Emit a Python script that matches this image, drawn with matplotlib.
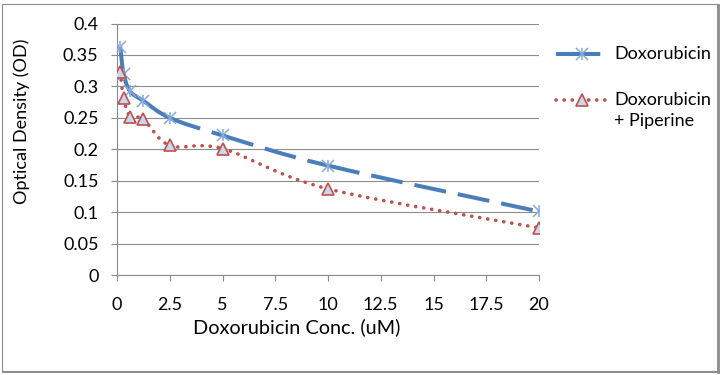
import numpy as np
import matplotlib.pyplot as plt
from matplotlib.path import Path
from matplotlib.patches import PathPatch, Rectangle
from matplotlib.lines import Line2D

# Данные
conc = [0.156, 0.3125, 0.625, 1.25, 2.5, 5, 10, 20]
od_dox = [0.363, 0.320, 0.292, 0.277, 0.250, 0.222, 0.174, 0.101]
od_dox_pip = [0.323, 0.281, 0.252, 0.248, 0.206, 0.201, 0.137, 0.075]

x_ticks = [0, 2.5, 5, 7.5, 10, 12.5, 15, 17.5, 20]
x_labels = ['0', '2.5', '5', '7.5', '10', '12.5', '15', '17.5', '20']
y_ticks = [0, 0.05, 0.1, 0.15, 0.2, 0.25, 0.3, 0.35, 0.4]
y_labels = ['0', '0.05', '0.1', '0.15', '0.2', '0.25', '0.3', '0.35', '0.4']

BLUE = '#4A7EBB'
BLUE_MK = '#86ACDF'
RED = '#C0504D'
TRI_FACE = '#C9D8EE'
GRAY = '#8C8C8C'

plt.rcParams['font.family'] = ['Lato', 'DejaVu Sans']
FS = 13

W, H = 722, 375
fig = plt.figure(figsize=(W / 100, H / 100), dpi=100)
ax = fig.add_axes([117 / W, 1 - 275 / H, (539 - 117) / W, (275 - 23.5) / H])


# сглаженная линия как в Excel: по одному кубическому сегменту Безье на интервал
def smooth_segments(xs, ys):
    p = np.column_stack([xs, ys])
    n = len(p)
    segs = []
    for i in range(n - 1):
        p0 = p[max(i - 1, 0)]
        p1 = p[i]
        p2 = p[i + 1]
        p3 = p[min(i + 2, n - 1)]
        c1 = p1 + (p2 - p0) / 6
        c2 = p2 - (p3 - p1) / 6
        segs.append(Path([p1, c1, c2, p2],
                         [Path.MOVETO, Path.CURVE4, Path.CURVE4, Path.CURVE4]))
    return segs


for seg in smooth_segments(conc, od_dox):
    ax.add_patch(PathPatch(seg, fill=False, edgecolor=BLUE, lw=2.9,
                           linestyle=(0, (8, 3)), capstyle='butt', zorder=3))
for seg in smooth_segments(conc, od_dox_pip):
    ax.add_patch(PathPatch(seg, fill=False, edgecolor=RED, lw=2.6,
                           linestyle=(0, (0.05, 2.2)), capstyle='round', zorder=3))

# маркеры
ax.plot(conc, od_dox, linestyle='none', marker='x', ms=8, mew=1.1, color=BLUE_MK, zorder=4)
ax.plot(conc, od_dox, linestyle='none', marker='|', ms=9, mew=1.1, color=BLUE_MK, zorder=4)
ax.plot(conc, od_dox_pip, linestyle='none', marker='^', ms=8, mew=1.2,
        mec=RED, mfc=TRI_FACE, zorder=4)

ax.set_xlim(0, 20)
ax.set_ylim(0, 0.4)
ax.set_xticks(x_ticks)
ax.set_xticklabels(x_labels)
ax.set_yticks(y_ticks)
ax.set_yticklabels(y_labels)
ax.grid(axis='y', color=GRAY, lw=0.8)
ax.set_axisbelow(True)
for s in ['top', 'right']:
    ax.spines[s].set_visible(False)
for s in ['left', 'bottom']:
    ax.spines[s].set_color(GRAY)
    ax.spines[s].set_linewidth(0.8)
ax.tick_params(axis='x', direction='out', length=4.3, width=0.8, color=GRAY,
               labelsize=FS, pad=11.5)
ax.tick_params(axis='y', direction='out', length=4.3, width=0.8, color=GRAY,
               labelsize=FS, pad=9)

fig.text(297 / W, 1 - 327 / H, 'Doxorubicin Conc. (uM)', fontsize=14.3,
         ha='center', va='center')
fig.text(22 / W, 1 - 121 / H, 'Optical Density (OD)', fontsize=FS,
         ha='center', va='center', rotation=90)

# легенда
def fx(px):
    return px / W


def fy(py):
    return 1 - py / H


fig.add_artist(Line2D([fx(556), fx(608)], [fy(54), fy(54)], color=BLUE, lw=2.9,
                      dashes=(11, 3)))
fig.add_artist(Line2D([fx(582)], [fy(54)], marker='x', ms=8, mew=1.1, color=BLUE_MK))
fig.add_artist(Line2D([fx(582)], [fy(54)], marker='|', ms=9, mew=1.1, color=BLUE_MK))
fig.text(fx(614), fy(54), 'Doxorubicin', fontsize=FS, va='center')

fig.add_artist(Line2D([fx(556), fx(608)], [fy(100), fy(100)], color=RED, lw=2.6,
                      linestyle=(0, (0.05, 2.2)), dash_capstyle='round'))
fig.add_artist(Line2D([fx(582)], [fy(100)], marker='^', ms=8, mew=1.2,
                      mec=RED, mfc=TRI_FACE))
fig.text(fx(614), fy(100), 'Doxorubicin', fontsize=FS, va='center')
fig.text(fx(614), fy(121), '+ Piperine', fontsize=FS, va='center')

# рамка диаграммы
fig.add_artist(Rectangle((fx(2), fy(371)), fx(716), 367 / H, fill=False,
                         edgecolor=GRAY, lw=0.8))
fig.add_artist(Line2D([fx(718), fx(718)], [fy(5), fy(372)], color=GRAY, lw=2))
fig.add_artist(Line2D([fx(3), fx(719)], [fy(371.5), fy(371.5)], color=GRAY, lw=1.4))

fig.savefig('out.png', dpi=100)
